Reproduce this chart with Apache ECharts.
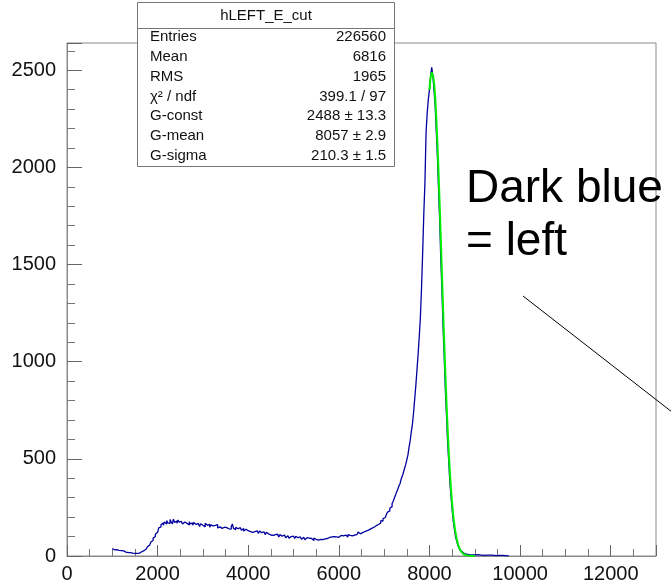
<!DOCTYPE html>
<html>
<head>
<meta charset="utf-8">
<script src="https://cdn.jsdelivr.net/npm/echarts@6/dist/echarts.min.js"></script>
<style>html,body{margin:0;padding:0;background:#fff;}#chart{width:671px;height:586px;}</style>
</head>
<body>
<div id="chart"></div>
<script>
// Histogram hLEFT_E_cut: bins of width 25 starting at 1000
const binStart = 1000;
const binWidth = 25;
const counts = [
  38, 32, 30, 33, 27, 29, 25, 28, 22, 26, 24, 20, 23, 18, 21, 17, 19, 15, 18, 14,
  16, 13, 17, 15, 19, 22, 24, 28, 30, 36, 42, 48, 56, 64, 72, 80, 92, 100, 112, 122,
  132, 145, 150, 162, 170, 158, 175, 165, 182, 170, 168, 188, 176, 165, 190, 172, 180, 168, 185, 174,
  178, 186, 165, 175, 182, 168, 172, 160, 176, 165, 170, 158, 172, 162, 156, 168, 160, 152, 166, 158,
  162, 150, 168, 158, 152, 163, 148, 160, 155, 145, 158, 150, 162, 144, 150, 156, 142, 152, 148, 158,
  146, 152, 140, 148, 138, 150, 165, 142, 136, 148, 140, 134, 146, 138, 132, 142, 128, 138, 134, 130,
  136, 126, 132, 122, 130, 125, 118, 130, 124, 116, 128, 120, 112, 124, 118, 110, 122, 114, 118, 108,
  116, 106, 114, 110, 102, 112, 106, 98, 110, 102, 96, 108, 100, 94, 104, 98, 92, 100, 96, 102,
  98, 90, 102, 94, 88, 98, 92, 86, 96, 90, 84, 94, 88, 92, 82, 90, 86, 80, 92, 86,
  88, 82, 92, 86, 90, 84, 94, 88, 96, 90, 86, 96, 92, 98, 90, 100, 94, 98, 104, 96,
  100, 106, 98, 104, 100, 108, 104, 98, 110, 106, 112, 104, 114, 108, 116, 110, 118, 124, 114, 122,
  120, 128, 126, 134, 130, 138, 136, 144, 142, 150, 148, 158, 156, 164, 162, 172, 170, 182, 180, 192,
  198, 208, 214, 226, 232, 246, 254, 270, 282, 298, 312, 330, 342, 360, 372, 396, 410, 430, 450, 470,
  495, 520, 560, 595, 640, 680, 740, 810, 880, 960, 1040, 1130, 1230, 1380, 1560, 1760, 1920, 2180, 2280, 2350,
  2400, 2470, 2515, 2470, 2400, 2320, 2190, 2060, 1890, 1730, 1530, 1370, 1180, 1030, 860, 730, 590, 490, 380, 310,
  240, 180, 140, 100, 78, 56, 42, 30, 22, 16, 12, 10, 9, 8, 7, 8, 6, 7, 6, 5,
  6, 5, 7, 4, 5, 6, 4, 5, 3, 4, 5, 3, 4, 3, 4, 2, 3, 4, 2, 3,
  3, 2, 3, 2, 3, 1, 2, 3, 1, 2
];
// Gaussian fit curve
const fitX = [8000, 8025, 8050, 8075, 8100, 8125, 8150, 8175, 8200, 8225, 8250, 8275, 8300, 8325, 8350, 8375, 8400, 8425, 8450, 8475, 8500, 8550, 8600, 8650, 8700, 8750, 8800, 8850, 8900, 8950, 9000];
const fitY = [2398, 2462, 2487, 2474, 2437, 2364, 2256, 2125, 1975, 1810, 1633, 1455, 1276, 1104, 943, 794, 658, 539, 434, 345, 270, 159, 89, 47, 23, 11, 5, 2, 0.8, 0.3, 0.1];
const xTicks = [0, 2000, 4000, 6000, 8000, 10000, 12000];
const yTicks = [0, 500, 1000, 1500, 2000, 2500];
const statsTitle = 'hLEFT_E_cut';
const statsNames = ['Entries', 'Mean', 'RMS', 'χ² / ndf', 'G-const', 'G-mean', 'G-sigma'];
const statsValues = ['226560', '6816', '1965', '399.1 / 97', '2488 ± 13.3', '8057 ± 2.9', '210.3 ± 1.5'];
const noteLines = ['Dark blue', '= left'];

const histData = counts.map((v, i) => [binStart + i * binWidth, v]);
histData.push([binStart + counts.length * binWidth, counts[counts.length - 1]]);
const fitData = fitX.map((x, i) => [x, fitY[i]]);

const FONT = '"Liberation Sans", Arial, sans-serif';
const chart = echarts.init(document.getElementById('chart'), null, {renderer: 'canvas'});

const graphics = [];
graphics.push({type: 'rect', shape: {x: 137.5, y: 2.5, width: 257, height: 164}, style: {fill: '#fff', stroke: '#777', lineWidth: 1}, z: 100});
graphics.push({type: 'line', shape: {x1: 137.5, y1: 28.5, x2: 394.5, y2: 28.5}, style: {stroke: '#777', lineWidth: 1}, z: 101});
graphics.push({type: 'text', x: 266, y: 16, style: {text: statsTitle, fill: '#111', font: '15px ' + FONT, textAlign: 'center', textVerticalAlign: 'middle'}, z: 101});
statsNames.forEach((n, i) => {
  const y = 37 + i * 19.8;
  graphics.push({type: 'text', x: 150, y: y, style: {text: n, fill: '#111', font: '15px ' + FONT, textAlign: 'left', textVerticalAlign: 'middle'}, z: 101});
  graphics.push({type: 'text', x: 386, y: y, style: {text: statsValues[i], fill: '#111', font: '15px ' + FONT, textAlign: 'right', textVerticalAlign: 'middle'}, z: 101});
});
graphics.push({type: 'text', x: 466, y: 189, style: {text: noteLines[0], fill: '#000', font: '46px ' + FONT, textAlign: 'left', textVerticalAlign: 'middle'}, z: 90});
graphics.push({type: 'text', x: 466, y: 242, style: {text: noteLines[1], fill: '#000', font: '46px ' + FONT, textAlign: 'left', textVerticalAlign: 'middle'}, z: 90});
graphics.push({type: 'line', shape: {x1: 523, y1: 296, x2: 672, y2: 412}, style: {stroke: '#000', lineWidth: 1}, z: 90});

const xMax = 13000, yMax = 2640;
chart.setOption({
  animation: false,
  backgroundColor: '#fff',
  grid: {left: 67, right: 15, top: 43, bottom: 30, show: true, borderColor: '#8a8a8a', borderWidth: 1, backgroundColor: 'transparent'},
  xAxis: {
    type: 'value', min: 0, max: xMax, interval: 2000,
    axisLine: {show: true, onZero: false, lineStyle: {color: '#8a8a8a', width: 1}},
    axisTick: {show: true, inside: true, length: 11, lineStyle: {color: '#666', width: 1}},
    minorTick: {show: true, splitNumber: 4, length: 7, lineStyle: {color: '#777', width: 1}},
    splitLine: {show: false},
    axisLabel: {show: true, color: '#111', fontSize: 20, fontFamily: FONT, margin: 8,
      formatter: v => (xTicks.indexOf(v) >= 0 ? String(v) : '')}
  },
  yAxis: {
    type: 'value', min: 0, max: yMax, interval: 500,
    axisLine: {show: true, lineStyle: {color: '#8a8a8a', width: 1}},
    axisTick: {show: true, inside: true, length: 15, lineStyle: {color: '#666', width: 1}},
    minorTick: {show: true, splitNumber: 5, length: 8, lineStyle: {color: '#777', width: 1}},
    splitLine: {show: false},
    axisLabel: {show: true, color: '#111', fontSize: 20, fontFamily: FONT, margin: 11,
      formatter: v => (yTicks.indexOf(v) >= 0 ? String(v) : '')}
  },
  series: [
    {type: 'line', data: histData, step: 'end', showSymbol: false, symbol: 'none',
      lineStyle: {color: '#0000a0', width: 1.3}, z: 2},
    {type: 'line', data: fitData, smooth: 0.3, showSymbol: false, symbol: 'none',
      lineStyle: {color: '#00ee00', width: 2}, z: 3}
  ],
  graphic: graphics
});
</script>
</body>
</html>
